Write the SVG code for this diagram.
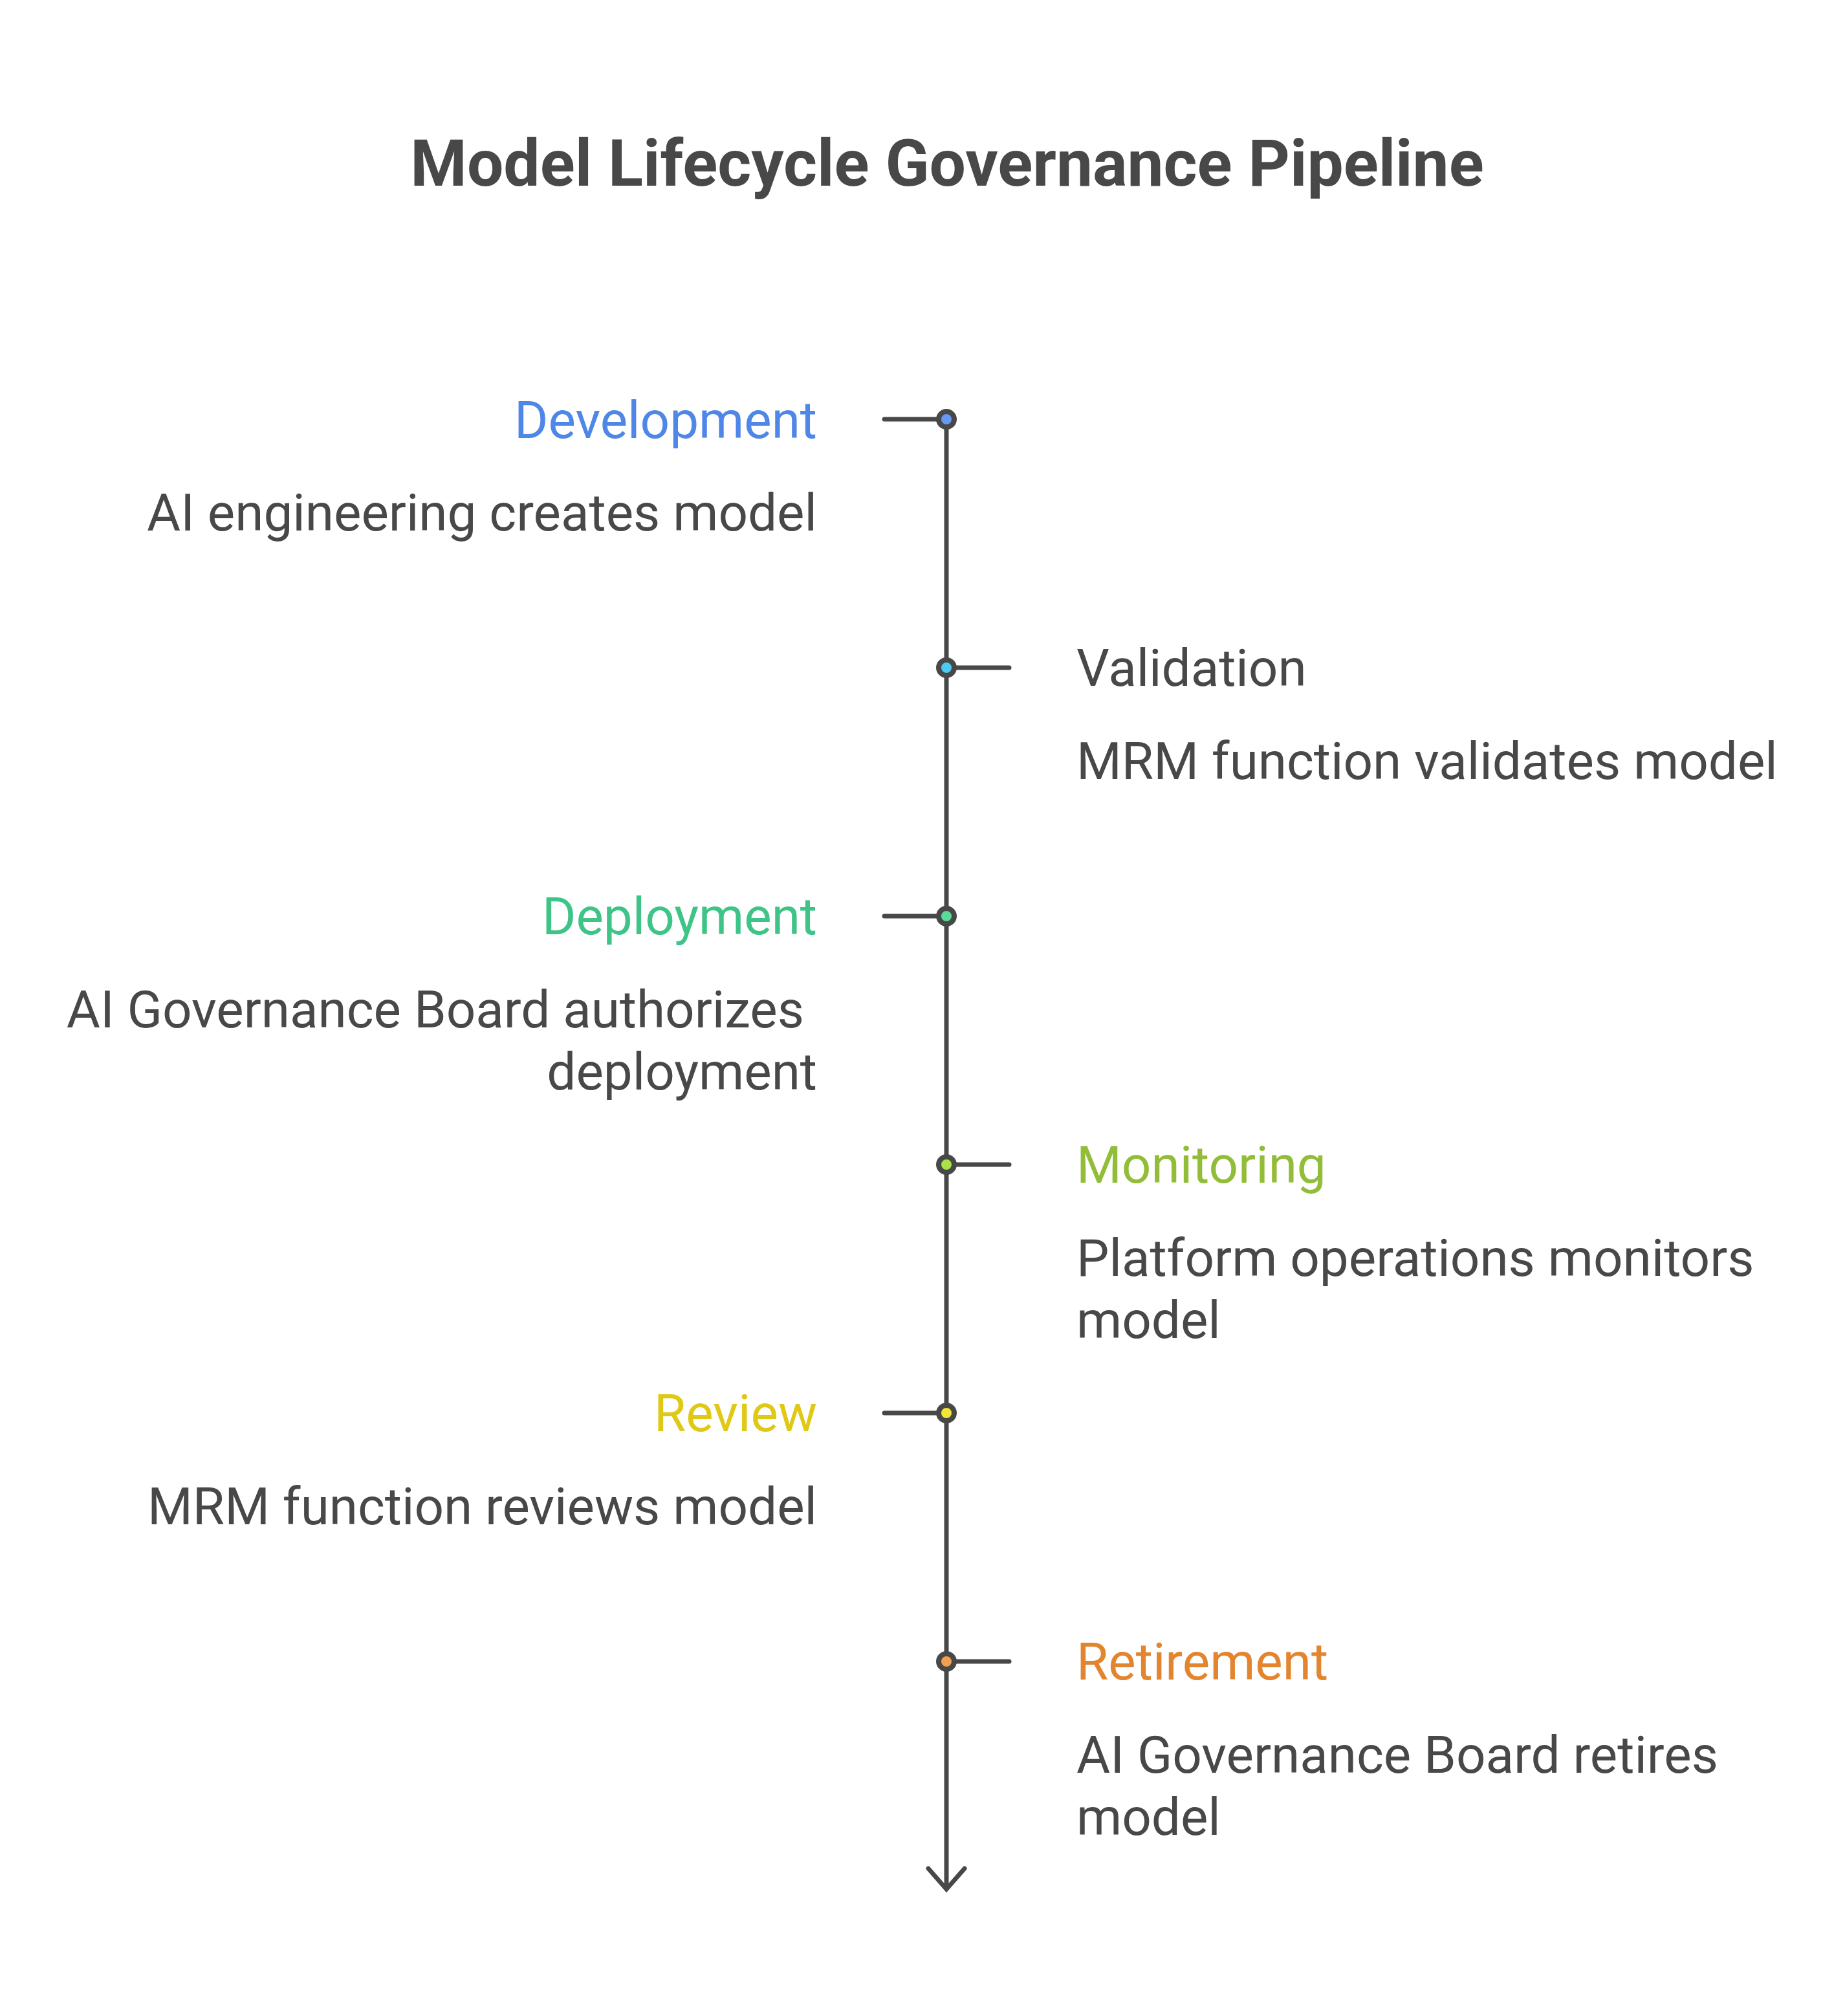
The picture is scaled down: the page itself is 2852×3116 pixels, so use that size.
<svg xmlns="http://www.w3.org/2000/svg" width="2852" height="3116" viewBox="0 0 2852 3116">
<style>
.title{font-family:Roboto,"Liberation Sans",sans-serif;font-weight:700;font-size:100px;fill:#484848}
.lab{font-family:Roboto,"Liberation Sans",sans-serif;font-size:80px}
.body{font-family:Roboto,"Liberation Sans",sans-serif;font-size:80px;fill:#484848}
.end{text-anchor:end}
.ln{stroke:#484848;stroke-width:7;stroke-linecap:round;fill:none}
.dot{stroke:#484848;stroke-width:8}
</style>
<rect width="2852" height="3116" fill="#ffffff"/>
<text class="title" x="1464" y="287" text-anchor="middle">Model Lifecycle Governance Pipeline</text>
<g id="connectors">
<line class="ln" x1="1463" y1="648" x2="1463" y2="2918"/>
<polyline class="ln" points="1435,2888 1463,2920 1491,2888"/>
<line class="ln" x1="1367" y1="648" x2="1463" y2="648"/>
<line class="ln" x1="1463" y1="1032" x2="1560" y2="1032"/>
<line class="ln" x1="1367" y1="1416" x2="1463" y2="1416"/>
<line class="ln" x1="1463" y1="1800" x2="1560" y2="1800"/>
<line class="ln" x1="1367" y1="2184" x2="1463" y2="2184"/>
<line class="ln" x1="1463" y1="2568" x2="1560" y2="2568"/>
</g>
<g id="development">
<circle class="dot" cx="1463" cy="648" r="12" fill="#6699F5"/>
<text class="lab end" x="1263" y="677" fill="#4F87E8">Development</text>
<text class="body end" x="1263" y="820">AI engineering creates model</text>
</g>
<g id="validation">
<circle class="dot" cx="1463" cy="1032" r="12" fill="#4DC9F5"/>
<text class="lab" x="1664" y="1060" fill="#484848">Validation</text>
<text class="body" x="1664" y="1204">MRM function validates model</text>
</g>
<g id="deployment">
<circle class="dot" cx="1463" cy="1416" r="12" fill="#5ADB9A"/>
<text class="lab end" x="1263" y="1444" fill="#3DC486">Deployment</text>
<text class="body end" x="1243" y="1588">AI Governance Board authorizes</text>
<text class="body end" x="1263" y="1684">deployment</text>
</g>
<g id="monitoring">
<circle class="dot" cx="1463" cy="1800" r="12" fill="#AEE04A"/>
<text class="lab" x="1664" y="1828" fill="#92BD38">Monitoring</text>
<text class="body" x="1664" y="1972">Platform operations monitors</text>
<text class="body" x="1664" y="2068">model</text>
</g>
<g id="review">
<circle class="dot" cx="1463" cy="2184" r="12" fill="#F5E535"/>
<text class="lab end" x="1263" y="2212" fill="#E0C916">Review</text>
<text class="body end" x="1263" y="2356">MRM function reviews model</text>
</g>
<g id="retirement">
<circle class="dot" cx="1463" cy="2568" r="12" fill="#F5A04F"/>
<text class="lab" x="1664" y="2596" fill="#E3852F">Retirement</text>
<text class="body" x="1664" y="2740">AI Governance Board retires</text>
<text class="body" x="1664" y="2836">model</text>
</g>
</svg>
